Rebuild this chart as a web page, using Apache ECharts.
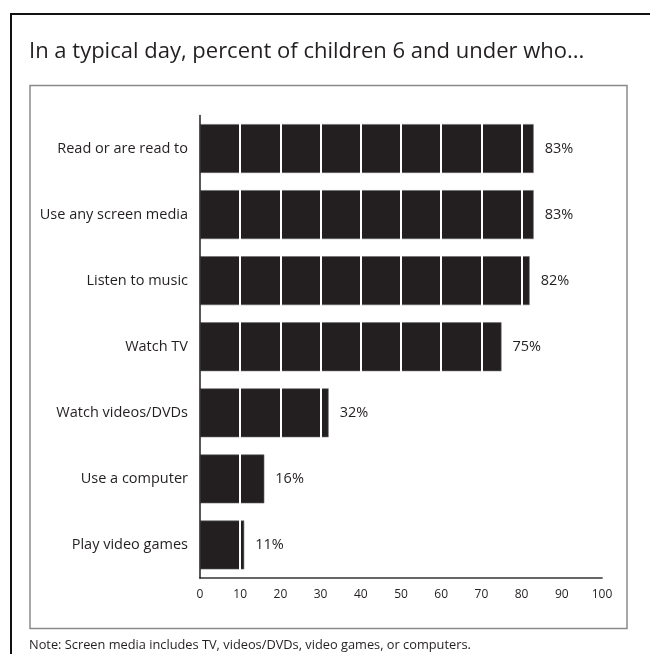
<!DOCTYPE html>
<html>
<head>
<meta charset="utf-8">
<script src="https://cdn.jsdelivr.net/npm/echarts@6/dist/echarts.min.js"></script>
<style>
html,body{margin:0;padding:0;background:#fff;}
#chart{width:650px;height:654px;}
</style>
</head>
<body>
<div id="chart"></div>
<script>
const categories = [
  "Read or are read to",
  "Use any screen media",
  "Listen to music",
  "Watch TV",
  "Watch videos/DVDs",
  "Use a computer",
  "Play video games"
];
const values = [83, 83, 82, 75, 32, 16, 11];
const xTicks = [0, 10, 20, 30, 40, 50, 60, 70, 80, 90, 100];
const titleText = "In a typical day, percent of children 6 and under who...";
const noteText = "Note: Screen media includes TV, videos/DVDs, video games, or computers.";

const FONT = "Open Sans";
const INK = "#231f20";

const chart = echarts.init(document.getElementById('chart'), null, {renderer: 'canvas'});

const splitColors = xTicks.map((t, i) => i === 0 ? 'rgba(0,0,0,0)' : '#ffffff');

chart.setOption({
  backgroundColor: '#fff',
  animation: false,
  title: {
    text: titleText,
    left: 24,
    top: 36,
    textStyle: {fontFamily: FONT, fontSize: 22, fontWeight: 'normal', color: INK}
  },
  graphic: [
    {type: 'rect', shape: {x: 11, y: 14, width: 660, height: 660}, style: {fill: 'none', stroke: '#111', lineWidth: 2}, z: 0},
    {type: 'rect', shape: {x: 30, y: 85.5, width: 597, height: 543}, style: {fill: 'none', stroke: '#8a8a8a', lineWidth: 1.5}, z: 0},
    {type: 'text', left: 29, top: 639, style: {text: noteText, fontFamily: FONT, fontSize: 12.8, fill: INK}}
  ],
  grid: {left: 200, right: 48, top: 115.5, bottom: 76, containLabel: false},
  xAxis: {
    type: 'value',
    min: 0, max: 100, interval: 10,
    z: 3,
    axisLine: {show: true, lineStyle: {color: '#666', width: 1.8}},
    axisTick: {show: false},
    axisLabel: {margin: 11, fontFamily: FONT, fontSize: 12, color: INK,
      formatter: v => xTicks.includes(v) ? String(v) : ''},
    splitLine: {show: true, lineStyle: {color: splitColors, width: 2}}
  },
  yAxis: {
    type: 'category',
    data: categories,
    inverse: true,
    z: 4,
    axisLine: {show: true, lineStyle: {color: INK, width: 1.5}},
    axisTick: {show: false},
    axisLabel: {margin: 12, fontFamily: FONT, fontSize: 14.5, color: INK}
  },
  series: [{
    type: 'bar',
    data: values,
    barCategoryGap: '26%',
    itemStyle: {color: INK, borderColor: '#6a6a6a', borderWidth: 0.6}
  }, {
    type: 'scatter',
    data: values.map((v, i) => [v, categories[i]]),
    symbolSize: 0,
    z: 5,
    silent: true,
    itemStyle: {opacity: 1, color: INK},
    label: {show: true, position: 'right', distance: 11,
      formatter: p => p.value[0] + '%',
      fontFamily: FONT, fontSize: 14.5, color: INK, opacity: 1}
  }]
});
</script>
</body>
</html>
